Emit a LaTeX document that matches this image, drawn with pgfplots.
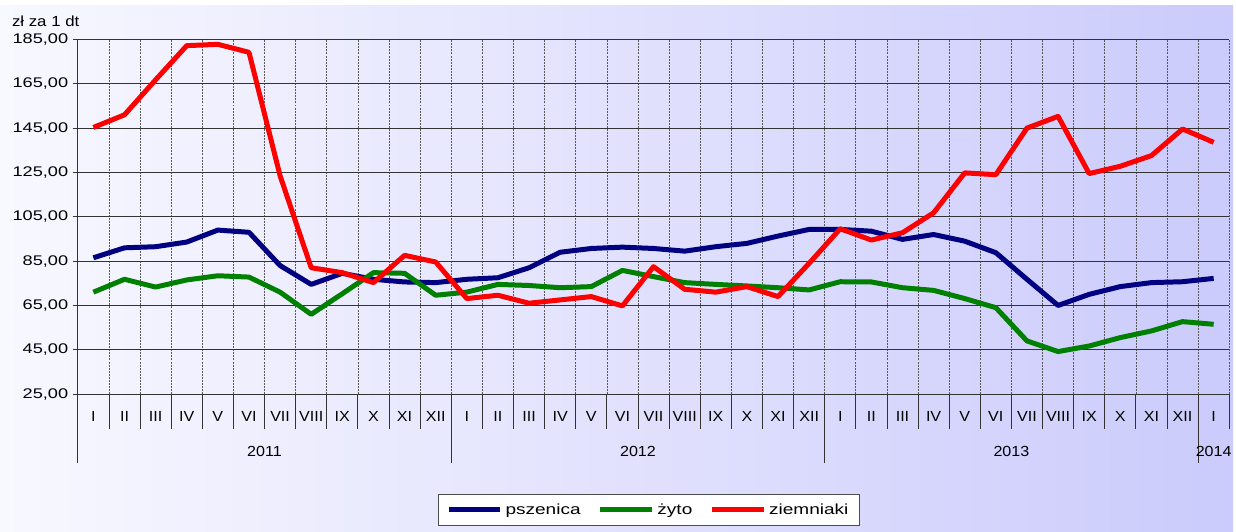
\documentclass[border=0pt]{standalone}
\usepackage{fontspec}
\setmainfont{Liberation Sans}
\newfontfamily\widef[FakeStretch=1.3]{Liberation Sans}
\newfontfamily\midf[FakeStretch=1.15]{Liberation Sans}
\newfontfamily\semif[FakeStretch=1.1]{Liberation Sans}
\usepackage{pgfplots}
\usepackage{pgfplotstable}
\pgfplotsset{compat=1.18}
\definecolor{cpsz}{RGB}{0,0,128}
\definecolor{czyto}{RGB}{0,128,0}
\definecolor{cziem}{RGB}{255,0,0}
\definecolor{bgl}{RGB}{248,248,255}
\definecolor{bgr}{RGB}{203,203,252}

% ceny w zl za 1 dt, miesiace I 2011 - I 2014
\pgfplotstableread{
x    psz    zyto   ziem
0.5  86.5   71.0   145.3
1.5  91.0   76.8   151.0
2.5  91.5   73.3   166.8
3.5  93.6   76.5   182.2
4.5  99.0   78.4   182.8
5.5  98.0   77.8   179.2
6.5  83.0   71.0   123.5
7.5  74.5   61.0   82.0
8.5  79.5   70.3   79.8
9.5  76.8   79.8   75.3
10.5 75.6   79.5   87.6
11.5 75.3   69.6   84.6
12.5 76.8   71.0   68.1
13.5 77.5   74.5   69.6
14.5 82.0   74.0   66.0
15.5 89.0   73.0   67.5
16.5 90.7   73.5   69.0
17.5 91.3   80.8   64.8
18.5 90.7   78.0   82.5
19.5 89.5   75.3   72.3
20.5 91.5   74.5   71.0
21.5 93.0   73.8   73.5
22.5 96.3   73.0   69.0
23.5 99.3   72.0   84.0
24.5 99.3   75.7   99.6
25.5 98.5   75.6   94.5
26.5 94.8   73.0   97.8
27.5 97.0   71.8   106.8
28.5 94.0   68.1   124.8
29.5 88.8   64.0   124.0
30.5 76.8   49.0   145.0
31.5 65.0   44.2   150.3
32.5 70.0   46.7   124.5
33.5 73.5   50.5   127.8
34.5 75.3   53.5   132.6
35.5 75.7   57.7   144.6
36.5 77.2   56.5   138.6
}\data

\begin{document}
\begin{tikzpicture}
\shade[left color=bgl, right color=bgr] (-58.5pt,-103.5pt) rectangle (868.5pt,292.5pt);
\fill[white] (-58.5pt,292.5pt) rectangle (868.5pt,296.25pt);
\begin{axis}[
  scale only axis,
  width=865.5pt, height=266.6pt,
  at={(0,0)}, anchor=south west,
  xmin=0, xmax=37, ymin=25, ymax=185,
  clip=false,
  axis x line=bottom, axis y line=left,
  axis line style={-, black!80, line width=0.6pt},
  ytick={25,45,...,185},
  ymajorgrids,
  major grid style={black!80, line width=0.6pt},
  xtick={0.5,1.5,...,36.5},
  xticklabels={I,II,III,IV,V,VI,VII,VIII,IX,X,XI,XII,I,II,III,IV,V,VI,VII,VIII,IX,X,XI,XII,I,II,III,IV,V,VI,VII,VIII,IX,X,XI,XII,I},
  minor xtick={0,1,...,37},
  xminorgrids,
  minor grid style={black!65, dash pattern=on 1.5pt off 0.8pt, line width=0.5pt},
  tick align=outside,
  major tick length=3.75pt,
  minor tick length=26.25pt,
  major x tick style={draw=none},
  minor x tick style={black!80, line width=0.6pt},
  y tick style={black!80, line width=0.6pt},
  /pgf/number format/assume math mode=true,
  /pgf/number format/fixed,
  /pgf/number format/fixed zerofill,
  /pgf/number format/precision=2,
  /pgf/number format/use comma,
  /pgf/number format/1000 sep={},
  yticklabel style={font=\widef\fontsize{10.5}{12}\selectfont},
  xticklabel style={font=\semif\fontsize{11}{12}\selectfont, anchor=center, yshift=-13pt},
  legend style={at={(axis description cs:0.4957,0)}, anchor=center, yshift=-87pt,
    legend columns=3, draw=black!70, fill=white, inner xsep=6pt, inner ysep=5pt,
    font=\widef\fontsize{11}{12}\selectfont,
    /tikz/every even column/.append style={column sep=11pt}},
  legend image code/.code={\draw[#1] (0pt,0pt) -- (39pt,0pt);},
]
  \addplot[color=cpsz, line width=3.75pt, line join=round] table[x=x, y=psz] {\data};
  \addlegendentry{pszenica}
  \addplot[color=czyto, line width=3.75pt, line join=round] table[x=x, y=zyto] {\data};
  \addlegendentry{żyto}
  \addplot[color=cziem, line width=3.75pt, line join=round] table[x=x, y=ziem] {\data};
  \addlegendentry{ziemniaki}

  \pgfplotsinvokeforeach{0,12,24,36}{
    \draw[black!80, line width=0.6pt] (axis cs:#1,25) -- ++(0pt,-52pt);
  }
  \node[font=\semif\fontsize{11}{12}\selectfont] at ([yshift=-43pt]axis cs:6,25) {2011};
  \node[font=\semif\fontsize{11}{12}\selectfont] at ([yshift=-43pt]axis cs:18,25) {2012};
  \node[font=\semif\fontsize{11}{12}\selectfont] at ([yshift=-43pt]axis cs:30,25) {2013};
  \node[font=\semif\fontsize{11}{12}\selectfont] at ([yshift=-43pt]axis cs:36.5,25) {2014};
  \node[font=\midf\fontsize{11}{12}\selectfont, anchor=west] at ([xshift=-53pt,yshift=14pt]axis cs:0,185) {zł za 1 dt};
\end{axis}
\end{tikzpicture}
\end{document}
